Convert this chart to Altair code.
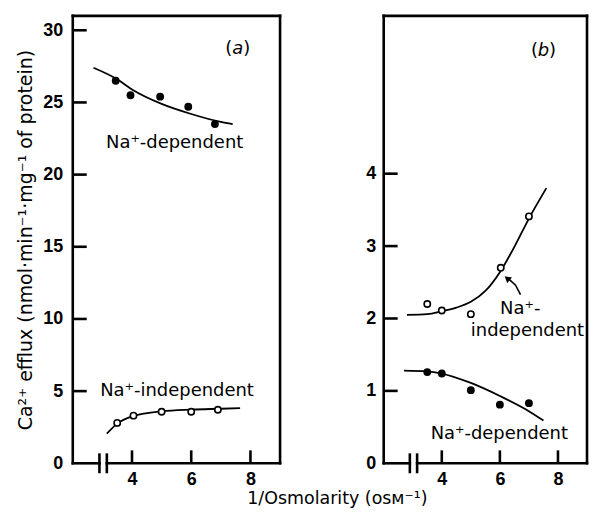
import altair as alt
import pandas as pd

TXT_FONT = "DejaVu Sans"
TICK_FONT = "Liberation Sans"

# ---------------- data: panel (a) ----------------
a_dep_x = [3.45, 3.95, 4.95, 5.9, 6.8]
a_dep_y = [26.5, 25.5, 25.4, 24.7, 23.5]
a_ind_x = [3.5, 4.05, 5.0, 6.0, 6.9]
a_ind_y = [2.8, 3.3, 3.57, 3.57, 3.71]
a_dep_fit_x = [2.7, 3.5, 4.0, 5.0, 6.0, 7.0, 7.4]
a_dep_fit_y = [27.4, 26.6, 25.9, 24.9, 24.2, 23.65, 23.5]
a_ind_fit_x = [3.15, 3.5, 4.0, 5.0, 6.0, 7.0, 7.65]
a_ind_fit_y = [2.05, 2.75, 3.25, 3.6, 3.72, 3.78, 3.82]

# ---------------- data: panel (b) ----------------
b_ind_x = [3.5, 4.0, 5.0, 6.03, 7.0]
b_ind_y = [2.2, 2.11, 2.06, 2.7, 3.41]
b_dep_x = [3.5, 4.0, 5.0, 6.0, 7.0]
b_dep_y = [1.26, 1.24, 1.01, 0.81, 0.83]
b_ind_fit_x = [2.8, 3.5, 4.0, 4.5, 5.0, 5.5, 6.0, 6.5, 7.0, 7.6]
b_ind_fit_y = [2.05, 2.06, 2.1, 2.15, 2.23, 2.38, 2.64, 2.99, 3.38, 3.8]
b_dep_fit_x = [2.7, 3.5, 4.0, 5.0, 6.0, 7.0, 7.5]
b_dep_fit_y = [1.28, 1.27, 1.24, 1.11, 0.93, 0.72, 0.59]
arrow_x = [6.71, 6.54, 6.32]
arrow_y = [2.33, 2.46, 2.54]
arrow_head = (6.25, 2.555)

# ---------------- axes ----------------
x_ticks = [4, 6, 8]
x_domain = [2, 9]
break_x = [2.9, 3.15]
a_y_ticks = [0, 5, 10, 15, 20, 25, 30]
b_y_ticks = [0, 1, 2, 3, 4]
a_y_domain = [0, 31]
b_y_domain = [0, 6.18]

Y_TITLE = "Ca²⁺ efflux (nmol·min⁻¹·mg⁻¹ of protein)"
X_TITLE = "1/Osmolarity (osᴍ⁻¹)"

# annotations (text, x, y)
a_labels = [("Na⁺-dependent", 5.44, 22.2), ("Na⁺-independent", 5.52, 5.03)]
b_labels = [("Na⁺-", 6.7, 2.13), ("independent", 6.95, 1.83), ("Na⁺-dependent", 5.98, 0.41)]
a_tag = ("a", 7.57, 28.7)
b_tag = ("b", 7.5, 5.70)

LW = 2.6
LBL = 18


def panel(W, H, ydom, yticks, fits, opens, fills, labels, tag, first, arrow=False):
    xs = alt.Scale(domain=x_domain, nice=False, zero=False)
    ys = alt.Scale(domain=ydom, nice=False, zero=False)
    common = dict(domain=False, ticks=False, grid=False, labelFont=TICK_FONT, labelFontSize=LBL,
                  labelFontWeight="bold", labelColor="black")
    if first:
        xaxis = alt.Axis(values=x_ticks, labelPadding=7, title=X_TITLE, titleX=265, titleY=35,
                         titleAlign="center", titleBaseline="middle", titleFont=TXT_FONT,
                         titleFontSize=17.5, titleFontWeight="normal", titleColor="black", **common)
        yaxis = alt.Axis(values=yticks, labelPadding=10, title=Y_TITLE, titleFont=TXT_FONT,
                         titleFontSize=19, titleFontWeight="normal", titleColor="black",
                         titlePadding=7, **common)
    else:
        xaxis = alt.Axis(values=x_ticks, labelPadding=7, title=None, **common)
        yaxis = alt.Axis(values=yticks, labelPadding=8, title=None, **common)

    def X(f):
        return alt.X(f, scale=xs, axis=xaxis)

    def Y(f):
        return alt.Y(f, scale=ys, axis=yaxis)

    rows = []
    for name, (fx, fy) in fits.items():
        for xv, yv in zip(fx, fy):
            rows.append({"x": xv, "y": yv, "s": name})
    fit_df = pd.DataFrame(rows)
    layers = []
    layers.append(alt.Chart(fit_df).mark_line(color="black", strokeWidth=1.8, interpolate="monotone").encode(
        x=X("x:Q"), y=Y("y:Q"), detail="s:N"))

    # frame
    one = pd.DataFrame({"k": [0]})
    layers.append(alt.Chart(one).mark_rule(color="black", strokeWidth=LW, strokeCap="square").encode(
        x=alt.value(0), x2=alt.value(W), y=alt.value(0)))
    layers.append(alt.Chart(one).mark_rule(color="black", strokeWidth=LW, strokeCap="square").encode(
        x=alt.value(0), y=alt.value(0), y2=alt.value(H)))
    layers.append(alt.Chart(one).mark_rule(color="black", strokeWidth=LW, strokeCap="square").encode(
        x=alt.value(W), y=alt.value(0), y2=alt.value(H)))
    seg = pd.DataFrame({"x0": [x_domain[0], break_x[1]], "x1": [break_x[0], x_domain[1]]})
    layers.append(alt.Chart(seg).mark_rule(color="black", strokeWidth=LW, strokeCap="square").encode(
        x=X("x0:Q"), x2="x1:Q", y=alt.value(H)))
    brk = pd.DataFrame({"x": break_x})
    layers.append(alt.Chart(brk).mark_rule(color="black", strokeWidth=2.6).encode(
        x=X("x:Q"), y=alt.value(H - 10), y2=alt.value(H + 10)))
    # inward ticks
    yt = pd.DataFrame({"y": [t for t in yticks if t != 0]})
    layers.append(alt.Chart(yt).mark_rule(color="black", strokeWidth=LW).encode(
        y=Y("y:Q"), x=alt.value(0), x2=alt.value(14)))
    xt = pd.DataFrame({"x": x_ticks})
    layers.append(alt.Chart(xt).mark_rule(color="black", strokeWidth=LW).encode(
        x=X("x:Q"), y=alt.value(H), y2=alt.value(H - 13)))

    if arrow:
        adf = pd.DataFrame({"x": arrow_x, "y": arrow_y, "o": list(range(len(arrow_x)))})
        layers.append(alt.Chart(adf).mark_line(color="black", strokeWidth=1.6).encode(
            x=X("x:Q"), y=Y("y:Q"), order="o:Q"))
        hdf = pd.DataFrame({"x": [arrow_head[0]], "y": [arrow_head[1]]})
        layers.append(alt.Chart(hdf).mark_point(shape="triangle-up", filled=True, color="black",
                                                size=55, angle=310, opacity=1).encode(
            x=X("x:Q"), y=Y("y:Q")))

    # points
    for fx, fy in fills:
        pdf = pd.DataFrame({"x": fx, "y": fy})
        layers.append(alt.Chart(pdf).mark_circle(color="black", size=62, opacity=1).encode(
            x=X("x:Q"), y=Y("y:Q")))
    for fx, fy in opens:
        pdf = pd.DataFrame({"x": fx, "y": fy})
        layers.append(alt.Chart(pdf).mark_point(shape="circle", filled=True, fill="white", stroke="black",
                                                strokeWidth=1.6, size=40, opacity=1).encode(
            x=X("x:Q"), y=Y("y:Q")))

    # labels
    ldf = pd.DataFrame({"t": [l[0] for l in labels], "x": [l[1] for l in labels], "y": [l[2] for l in labels]})
    layers.append(alt.Chart(ldf).mark_text(font=TXT_FONT, fontSize=18, color="black", align="center",
                                           baseline="middle").encode(
        x=X("x:Q"), y=Y("y:Q"), text="t:N"))
    tdf = pd.DataFrame({"t": [tag[0]], "x": [tag[1]], "y": [tag[2]]})
    layers.append(alt.Chart(tdf).mark_text(font=TXT_FONT, fontSize=18, fontStyle="italic", color="black",
                                           align="center", baseline="middle").encode(
        x=X("x:Q"), y=Y("y:Q"), text="t:N"))
    for ch, dx in (("(", -9), (")", 9)):
        layers.append(alt.Chart(tdf).mark_text(font=TXT_FONT, fontSize=18, color="black", align="center",
                                               baseline="middle", dx=dx, text=ch).encode(
            x=X("x:Q"), y=Y("y:Q")))

    return alt.layer(*layers).properties(width=W, height=H)


pa = panel(208, 449, a_y_domain, a_y_ticks,
           {"dep": (a_dep_fit_x, a_dep_fit_y), "ind": (a_ind_fit_x, a_ind_fit_y)},
           opens=[(a_ind_x, a_ind_y)], fills=[(a_dep_x, a_dep_y)],
           labels=a_labels, tag=a_tag, first=True)
pb = panel(204, 449, b_y_domain, b_y_ticks,
           {"dep": (b_dep_fit_x, b_dep_fit_y), "ind": (b_ind_fit_x, b_ind_fit_y)},
           opens=[(b_ind_x, b_ind_y)], fills=[(b_dep_x, b_dep_y)],
           labels=b_labels, tag=b_tag, first=False, arrow=True)

chart = alt.hconcat(pa, pb, spacing=104, bounds="flush").resolve_scale(x="independent", y="independent").properties(
    padding={"left": 8, "top": 5, "right": 0, "bottom": 0}
).configure_view(strokeWidth=0)

chart.save("out.html", embed_options={"renderer": "svg", "actions": False})
